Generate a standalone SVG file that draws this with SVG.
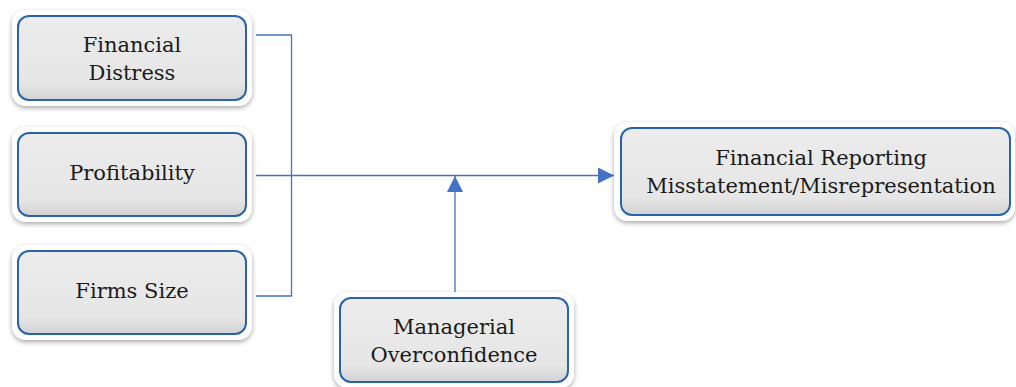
<svg xmlns="http://www.w3.org/2000/svg" width="1016" height="387" viewBox="0 0 1016 387">
<defs>
<filter id="sh" x="-10%" y="-20%" width="120%" height="140%">
<feGaussianBlur in="SourceAlpha" stdDeviation="2.5"/>
<feOffset dx="0" dy="1.5" result="b"/>
<feComponentTransfer in="b" result="c"><feFuncA type="linear" slope="0.35"/></feComponentTransfer>
<feMerge><feMergeNode in="c"/><feMergeNode in="SourceGraphic"/></feMerge>
</filter>
<linearGradient id="fill" x1="0" y1="0" x2="0" y2="1">
<stop offset="0" stop-color="#ececec"/>
<stop offset="0.8" stop-color="#e6e6e6"/>
<stop offset="1" stop-color="#d2d2d2"/>
</linearGradient>
<marker id="ah" viewBox="0 0 16 16" refX="16" refY="8" markerWidth="16" markerHeight="16" orient="auto" markerUnits="userSpaceOnUse">
<path d="M0,0 L16,8 L0,16 Z" fill="#4472c4"/>
</marker>
<style>
.frame{fill:#ffffff;filter:url(#sh)}
.box{fill:url(#fill);stroke:#2a64a8;stroke-width:2}
.t{font-family:"DejaVu Serif","Liberation Serif",serif;font-size:21px;fill:#1a1a1a;text-anchor:middle}
.c{fill:none;stroke:#4472c4;stroke-width:1.3}
</style>
</defs>
<g id="connectors">
<path class="c" d="M256,35 H291.5 V296 H256"/>
<path class="c" d="M256,175.5 H614" marker-end="url(#ah)"/>
<path class="c" d="M455,293 V176" marker-end="url(#ah)"/>
</g>
<g id="n1">
<rect class="frame" x="12" y="10" width="240" height="96" rx="14"/>
<rect class="box" x="18" y="16" width="228" height="84" rx="11"/>
<text class="t" x="132" y="52">Financial</text>
<text class="t" x="132" y="80">Distress</text>
</g>
<g id="n2">
<rect class="frame" x="12" y="127" width="240" height="95" rx="14"/>
<rect class="box" x="18" y="133" width="228" height="83" rx="11"/>
<text class="t" x="132" y="180">Profitability</text>
</g>
<g id="n3">
<rect class="frame" x="12" y="245" width="240" height="95" rx="14"/>
<rect class="box" x="18" y="251" width="228" height="83" rx="11"/>
<text class="t" x="132" y="298">Firms Size</text>
</g>
<g id="n4">
<rect class="frame" x="334" y="292" width="240" height="96" rx="14"/>
<rect class="box" x="340" y="298" width="228" height="84" rx="11"/>
<text class="t" x="454" y="334">Managerial</text>
<text class="t" x="454" y="362">Overconfidence</text>
</g>
<g id="n5">
<rect class="frame" x="614" y="122" width="401" height="99" rx="14"/>
<rect class="box" x="621" y="128" width="389" height="87" rx="11"/>
<text class="t" x="821" y="165">Financial Reporting</text>
<text class="t" x="821" y="193">Misstatement/Misrepresentation</text>
</g>
</svg>
